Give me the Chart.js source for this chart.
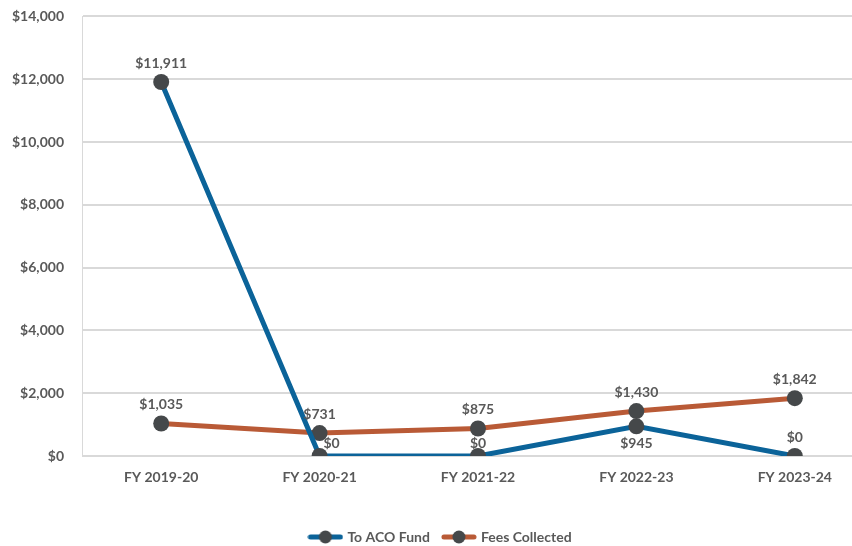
<!DOCTYPE html>
<html>
<head>
<meta charset="utf-8">
<script src="https://cdn.jsdelivr.net/npm/chart.js@4"></script>
<style>
  html, body { margin: 0; padding: 0; background: #fff; overflow: hidden; }
  #wrap { width: 882px; height: 566px; margin-top: -10px; }
</style>
</head>
<body>
<div id="wrap"><canvas id="lineChart" width="882" height="566"></canvas></div>
<script>
// chart data
const categories = ['FY 2019-20', 'FY 2020-21', 'FY 2021-22', 'FY 2022-23', 'FY 2023-24'];
const acoFund = [11911, 0, 0, 945, 0];
const feesCollected = [1035, 731, 875, 1430, 1842];
const yTicks = [0, 2000, 4000, 6000, 8000, 10000, 12000, 14000];

const BLUE = '#0B6399';
const ORANGE = '#B95A36';
const DOT = '#45484A';
const TEXT = '#595959';
const FONT = 'Lato, "Liberation Sans", sans-serif';

function money(v) {
    return '$' + v.toLocaleString('en-US');
}

// legend swatch: thick line with a dot in the middle
function legendSwatch(color) {
    const c = document.createElement('canvas');
    c.width = 36; c.height = 14;
    const g = c.getContext('2d');
    g.strokeStyle = color;
    g.lineWidth = 5;
    g.lineCap = 'round';
    g.beginPath(); g.moveTo(3, 7); g.lineTo(33, 7); g.stroke();
    g.fillStyle = DOT;
    g.beginPath(); g.arc(18, 7, 6.5, 0, Math.PI * 2); g.fill();
    return c;
}

// draws the value labels next to each point
const valueLabels = {
    id: 'valueLabels',
    afterDatasetsDraw(chart) {
        const ctx = chart.ctx;
        ctx.save();
        ctx.font = 'bold 14px ' + FONT;
        ctx.fillStyle = TEXT;
        ctx.textAlign = 'center';
        ctx.textBaseline = 'middle';
        chart.data.datasets.forEach(function (ds, di) {
            const otherIdx = 1 - di;
            const other = chart.data.datasets[otherIdx].data;
            const otherPts = chart.getDatasetMeta(otherIdx).data;
            chart.getDatasetMeta(di).data.forEach(function (pt, i) {
                const v = ds.data[i];
                let x = pt.x;
                let y = pt.y - 19;
                if (di === 0 && v > 0 && v < other[i]) {
                    // blue label goes under its point when it sits just below the orange one
                    y = pt.y + 17;
                } else if (di === 0 && Math.abs(otherPts[i].y - y) < 14) {
                    // squeeze between the two points
                    y = pt.y - 13;
                    if (i > 0 && ds.data[i - 1] > v) x += 12;
                }
                ctx.fillText(money(v), x, y);
            });
        });
        ctx.restore();
    }
};

new Chart(document.getElementById('lineChart'), {
    type: 'line',
    data: {
        labels: categories,
        datasets: [{
            label: 'To ACO Fund',
            data: acoFund,
            borderColor: BLUE,
            backgroundColor: BLUE,
            borderWidth: 5,
            pointRadius: 8,
            pointHoverRadius: 8,
            pointBackgroundColor: DOT,
            pointBorderColor: DOT,
            pointBorderWidth: 0,
            tension: 0
        }, {
            label: 'Fees Collected',
            data: feesCollected,
            borderColor: ORANGE,
            backgroundColor: ORANGE,
            borderWidth: 5,
            pointRadius: 8,
            pointHoverRadius: 8,
            pointBackgroundColor: DOT,
            pointBorderColor: DOT,
            pointBorderWidth: 0,
            tension: 0
        }]
    },
    options: {
        responsive: false,
        animation: false,
        layout: { padding: { top: 8, left: 0, right: 0, bottom: 2 } },
        scales: {
            y: {
                min: 0,
                max: 14000,
                afterBuildTicks: function (axis) {
                    axis.ticks = yTicks.map(function (v) { return { value: v }; });
                },
                afterFit: function (axis) { axis.width = 82; },
                ticks: {
                    padding: 18,
                    color: TEXT,
                    font: { family: FONT, size: 14, weight: 'bold' },
                    callback: function (v) { return money(v); }
                },
                grid: {
                    color: '#D9D9D9',
                    lineWidth: 2,
                    drawTicks: false
                },
                border: { display: true, color: '#D9D9D9', width: 1 }
            },
            x: {
                offset: true,
                afterFit: function (axis) { axis.height = 60; },
                ticks: {
                    padding: 13,
                    color: TEXT,
                    font: { family: FONT, size: 14, weight: 'bold' }
                },
                grid: { display: false, drawTicks: false, offset: false },
                border: { display: true, color: '#D9D9D9', width: 1 }
            }
        },
        plugins: {
            legend: {
                position: 'bottom',
                labels: {
                    usePointStyle: true,
                    pointStyleWidth: 30,
                    color: TEXT,
                    font: { family: FONT, size: 14, weight: 'bold' },
                    padding: 14,
                    generateLabels: function (chart) {
                        return chart.data.datasets.map(function (ds, i) {
                            return {
                                text: ds.label,
                                pointStyle: legendSwatch(ds.borderColor),
                                fillStyle: ds.borderColor,
                                strokeStyle: ds.borderColor,
                                lineWidth: 0,
                                fontColor: TEXT,
                                datasetIndex: i
                            };
                        });
                    }
                }
            },
            tooltip: { enabled: false }
        }
    },
    plugins: [valueLabels]
});
</script>
</body>
</html>
